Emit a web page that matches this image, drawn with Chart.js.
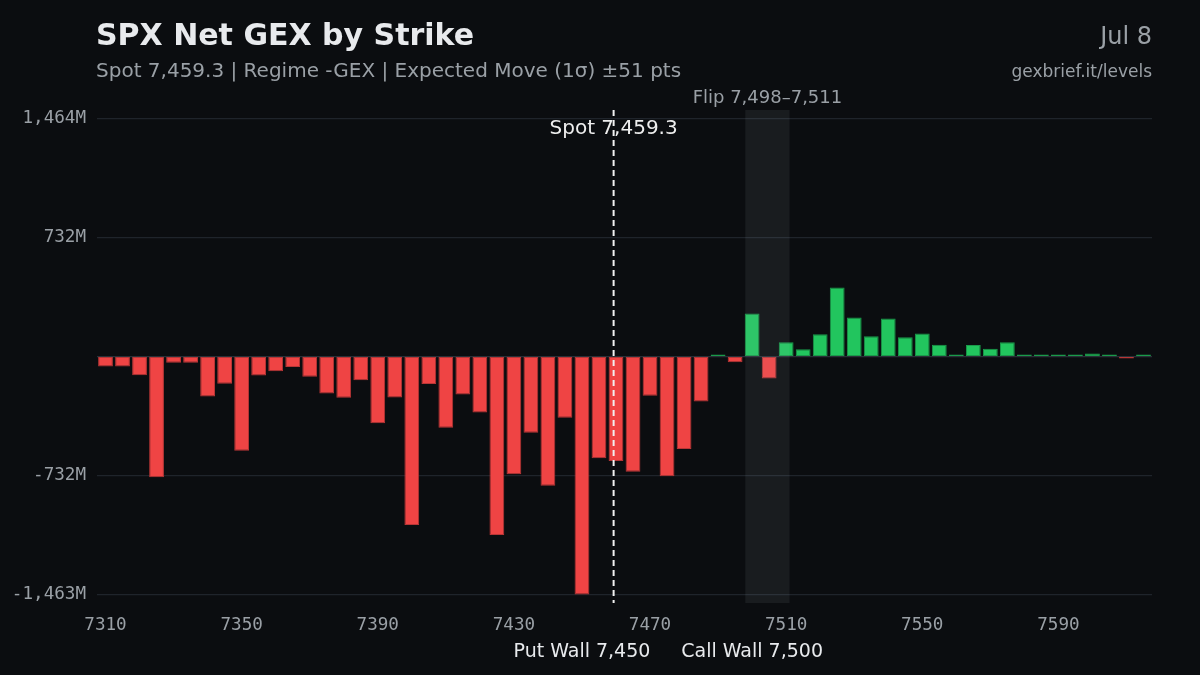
<!DOCTYPE html>
<html>
<head>
<meta charset="utf-8">
<script src="https://cdn.jsdelivr.net/npm/chart.js@4.4.1/dist/chart.umd.min.js"></script>
<style>
  html, body { margin: 0; padding: 0; background: #0b0d10; }
  #wrap { width: 1200px; height: 675px; position: relative; }
</style>
</head>
<body>
<div id="wrap"><canvas id="c" width="1200" height="675"></canvas></div>
<script>
// ---- data ----
const strikes = [
  7310,7315,7320,7325,7330,7335,7340,7345,7350,7355,
  7360,7365,7370,7375,7380,7385,7390,7395,7400,7405,
  7410,7415,7420,7425,7430,7435,7440,7445,7450,7455,
  7460,7465,7470,7475,7480,7485,7490,7495,7500,7505,
  7510,7515,7520,7525,7530,7535,7540,7545,7550,7555,
  7560,7565,7570,7575,7580,7585,7590,7595,7600,7605,
  7610,7615
];
const netGexM = [
  -61,-61,-115,-742,-39,-39,-246,-168,-580,-117,
  -90,-64,-125,-228,-254,-146,-410,-252,-1035,-169,
  -438,-234,-344,-1097,-724,-469,-795,-377,-1463.5,-625,
  -642,-709,-242,-736,-568,-277,13,-36,264,-135,
  88,45,137,424,240,125,234,119,141,72,
  8,70,47,88,4,3,6,5,18,4,
  -4,4
];
const xTickValues = [7310,7350,7390,7430,7470,7510,7550,7590];
const yTickValues = [-1463.5,-731.75,0,731.75,1463.5];
const spot = 7459.3;
const flipLow = 7498, flipHigh = 7511;
const putWall = 7450, callWall = 7500;

const titleText = 'SPX Net GEX by Strike';
const subtitleText = 'Spot 7,459.3 | Regime -GEX | Expected Move (1σ) ±51 pts';
const dateText = 'Jul 8';
const sourceText = 'gexbrief.it/levels';
const spotLabel = 'Spot 7,459.3';
const flipLabel = 'Flip 7,498–7,511';
const putLabel = 'Put Wall 7,450';
const callLabel = 'Call Wall 7,500';

const RED = '#ef4444', GREEN = '#22c55e';
const RED_EDGE = '#b83636', GREEN_EDGE = '#1a9a4a';
const SANS = '"DejaVu Sans", sans-serif';
const MONO = '"DejaVu Sans Mono", monospace';

const bgPlugin = {
  id: 'bg',
  beforeDraw(chart) {
    const ctx = chart.ctx;
    ctx.save();
    ctx.fillStyle = '#0b0d10';
    ctx.fillRect(0, 0, chart.width, chart.height);
    ctx.restore();
  }
};

const annotPlugin = {
  id: 'annot',
  afterDatasetsDraw(chart) {
    const ctx = chart.ctx;
    const xs = chart.scales.x;
    const a = chart.chartArea;
    ctx.save();
    // flip band
    const b0 = xs.getPixelForValue(flipLow), b1 = xs.getPixelForValue(flipHigh);
    ctx.fillStyle = 'rgba(200,210,225,0.075)';
    ctx.fillRect(b0, a.top, b1 - b0, a.bottom - a.top);
    // spot line
    const sx = xs.getPixelForValue(spot);
    ctx.strokeStyle = '#f2f2f2';
    ctx.lineWidth = 2;
    ctx.setLineDash([6, 4]);
    ctx.beginPath();
    ctx.moveTo(sx, a.top);
    ctx.lineTo(sx, a.bottom);
    ctx.stroke();
    ctx.setLineDash([]);
    // labels
    ctx.textAlign = 'center';
    ctx.textBaseline = 'alphabetic';
    ctx.fillStyle = '#9aa0a6';
    ctx.font = '18px ' + SANS;
    ctx.fillText(flipLabel, (b0 + b1) / 2, 103);
    ctx.fillStyle = '#eeeeee';
    ctx.font = '20px ' + SANS;
    ctx.fillText(spotLabel, sx, 134);
    ctx.fillStyle = '#e8eaed';
    ctx.font = '19px ' + SANS;
    ctx.fillText(putLabel, xs.getPixelForValue(putWall), 657);
    ctx.fillText(callLabel, xs.getPixelForValue(callWall), 657);
    // header
    ctx.textAlign = 'left';
    ctx.fillStyle = '#e8eaed';
    ctx.font = 'bold 30px ' + SANS;
    ctx.fillText(titleText, 96, 45);
    ctx.fillStyle = '#9aa0a6';
    ctx.font = '20px ' + SANS;
    ctx.fillText(subtitleText, 96, 77);
    ctx.textAlign = 'right';
    ctx.font = '24px ' + SANS;
    ctx.fillText(dateText, 1152, 44);
    ctx.font = '17px ' + SANS;
    ctx.fillText(sourceText, 1152, 77);
    ctx.restore();
  }
};

new Chart(document.getElementById('c'), {
  type: 'bar',
  data: {
    labels: strikes,
    datasets: [{
      data: netGexM,
      backgroundColor: netGexM.map(v => v >= 0 ? GREEN : RED),
      borderColor: netGexM.map(v => v >= 0 ? GREEN_EDGE : RED_EDGE),
      borderWidth: 1,
      borderSkipped: false,
      minBarLength: 2,
      barPercentage: 0.87,
      categoryPercentage: 1.0
    }]
  },
  options: {
    responsive: false,
    animation: false,
    devicePixelRatio: 1,
    layout: { padding: { top: 110, right: 48, bottom: 0, left: 0 } },
    plugins: { legend: { display: false }, tooltip: { enabled: false } },
    scales: {
      x: {
        type: 'linear',
        offset: false,
        min: 7307.5,
        max: 7617.5,
        afterBuildTicks(s) { s.ticks = xTickValues.map(v => ({ value: v })); },
        afterFit(s) { s.height = 72; },
        grid: { display: false, drawTicks: false, offset: false },
        border: { display: false },
        ticks: {
          autoSkip: false, maxRotation: 0, padding: 12,
          color: '#9aa0a6', font: { family: MONO, size: 17.6 },
          callback: v => String(v)
        }
      },
      y: {
        min: -1515,
        max: 1515,
        afterBuildTicks(s) { s.ticks = yTickValues.map(v => ({ value: v })); },
        afterFit(s) { s.width = 97; },
        grid: {
          color: ctx => ctx.tick && ctx.tick.value === 0 ? '#2a3038' : '#1f242b',
          lineWidth: 1.2, drawTicks: false
        },
        border: { display: false },
        ticks: {
          padding: 11,
          color: '#9aa0a6', font: { family: MONO, size: 17.6 },
          callback: v => v === 0 ? '' : Math.round(v).toLocaleString('en-US') + 'M'
        }
      }
    }
  },
  plugins: [bgPlugin, annotPlugin]
});
</script>
</body>
</html>
